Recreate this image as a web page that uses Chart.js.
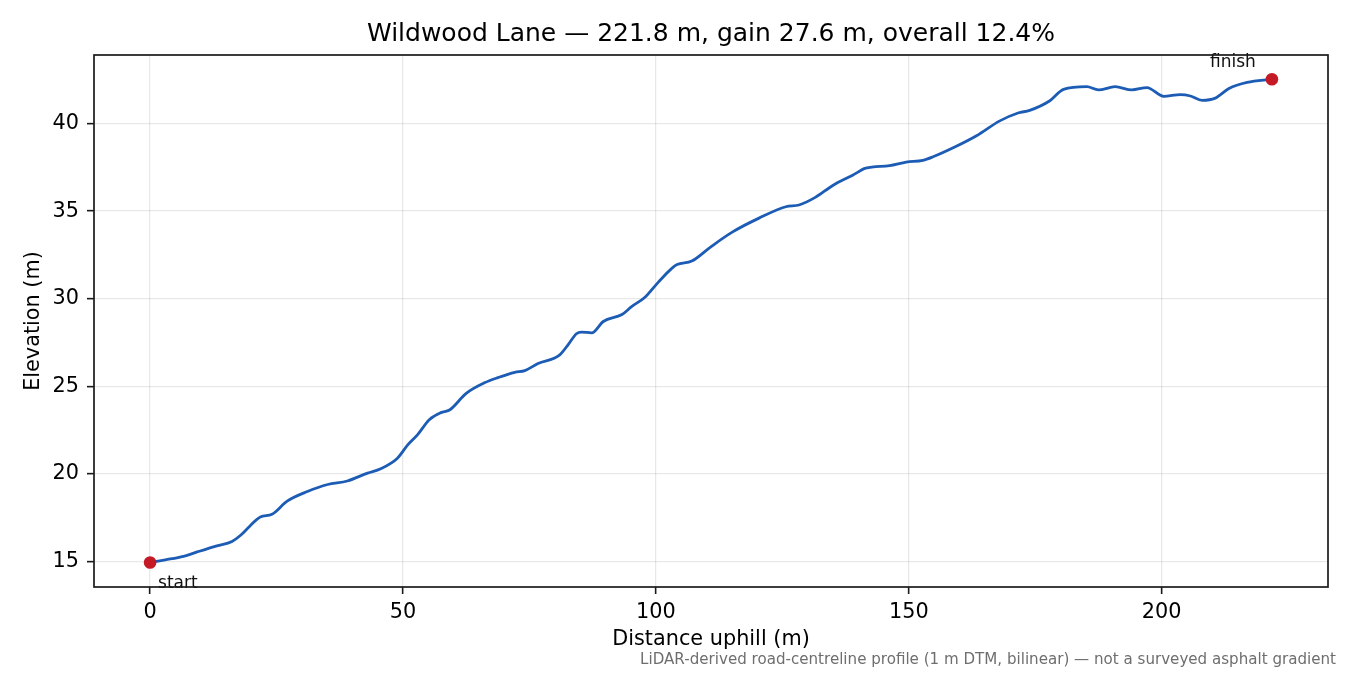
<!DOCTYPE html>
<html>
<head>
<meta charset="utf-8">
<script src="https://cdn.jsdelivr.net/npm/chart.js@4.4.1/dist/chart.umd.min.js"></script>
<style>
  html, body { margin: 0; padding: 0; background: #fff; }
  #wrap { width: 1350px; height: 675px; }
</style>
</head>
<body>
<div id="wrap"><canvas id="profile" width="1350" height="675"></canvas></div>
<script>
/* Wildwood Lane elevation profile */
const distance = [
  0, 3, 6.6, 9.3, 13.2, 16.2, 17.9, 19.8, 21.8, 24.1, 27.1, 31.1, 35.1, 39.0,
  43.0, 45.6, 48.9, 50.9, 52.9, 55.2, 57.5, 59.2, 62.5, 66.1, 68.8, 72.1, 74.1,
  76.7, 81.0, 82.7, 84.3, 85.3, 87.3, 89.6, 93.3, 95.2, 97.9, 100.5, 103.2,
  104.2, 107.1, 110.8, 115.1, 120.4, 125.7, 128.3, 131.6, 134.9, 138.9, 141.5,
  146.2, 149.5, 152.8, 154.8, 159.4, 163.4, 168.0, 171.6, 173.9, 177.9, 180.6,
  185.2, 187.5, 190.8, 194.1, 197.1, 200.4, 203.7, 205.7, 208.0, 210.6, 213.3,
  216.9, 221.8
];
const elevation = [
  14.95, 15.1, 15.3, 15.55, 15.9, 16.15, 16.5, 17.05, 17.55, 17.7, 18.45, 19.0, 19.4, 19.6,
  20.05, 20.3, 20.9, 21.65, 22.25, 23.1, 23.5, 23.65, 24.6, 25.2, 25.5, 25.8, 25.9,
  26.3, 26.8, 27.4, 28.0, 28.1, 28.05, 28.7, 29.1, 29.55, 30.1, 30.95, 31.75,
  31.95, 32.15, 32.95, 33.8, 34.6, 35.25, 35.35, 35.8, 36.45, 37.05, 37.45,
  37.6, 37.8, 37.9, 38.1, 38.7, 39.3, 40.15, 40.6, 40.75, 41.3, 41.95,
  42.1, 41.92, 42.1, 41.92, 42.05, 41.55, 41.65, 41.57, 41.32, 41.45, 42.0,
  42.35, 42.53
];
const endLabels = ['start', 'finish'];
const xTicks = [0, 50, 100, 150, 200];
const yTicks = [15, 20, 25, 30, 35, 40];

const TITLE = 'Wildwood Lane \u2014 221.8 m, gain 27.6 m, overall 12.4%';
const NOTE = 'LiDAR-derived road-centreline profile (1 m DTM, bilinear) \u2014 not a surveyed asphalt gradient';
const FONT = "'DejaVu Sans', sans-serif";

const profilePts = distance.map((d, i) => ({ x: d, y: elevation[i] }));
const last = distance.length - 1;
const endPts = [
  { x: distance[0], y: elevation[0] },
  { x: distance[last], y: elevation[last] }
];

// text labels under the frame
const labels = {
  id: 'labels',
  afterDatasetsDraw(chart) {
    const { ctx, scales: { x, y } } = chart;
    ctx.save();
    ctx.font = '17px ' + FONT;
    ctx.fillStyle = '#111';
    ctx.textBaseline = 'alphabetic';
    ctx.textAlign = 'left';
    ctx.fillText(endLabels[0], x.getPixelForValue(endPts[0].x) + 8, y.getPixelForValue(endPts[0].y) + 26);
    ctx.textAlign = 'center';
    ctx.fillText(endLabels[1], x.getPixelForValue(endPts[1].x) - 39, y.getPixelForValue(endPts[1].y) - 12);
    ctx.restore();
  }
};

// frame, titles, footnote
const decor = {
  id: 'decor',
  afterDraw(chart) {
    const { ctx, chartArea: a } = chart;
    ctx.save();
    ctx.strokeStyle = '#1a1a1a';
    ctx.lineWidth = 1.7;
    ctx.strokeRect(a.left, a.top, a.right - a.left, a.bottom - a.top);

    ctx.fillStyle = '#000';
    ctx.textAlign = 'center';
    ctx.textBaseline = 'middle';
    ctx.font = '25px ' + FONT;
    ctx.fillText(TITLE, (a.left + a.right) / 2, 34);

    ctx.font = '20.8px ' + FONT;
    ctx.fillText('Distance uphill (m)', (a.left + a.right) / 2, 640);
    ctx.save();
    ctx.translate(34, (a.top + a.bottom) / 2);
    ctx.rotate(-Math.PI / 2);
    ctx.fillText('Elevation (m)', 0, 0);
    ctx.restore();

    ctx.font = '15.1px ' + FONT;
    ctx.fillStyle = '#6e6e6e';
    ctx.textAlign = 'right';
    ctx.textBaseline = 'alphabetic';
    ctx.fillText(NOTE, 1336, 664);
    ctx.restore();
  }
};

const tickList = vals => scale => { scale.ticks = vals.map(v => ({ value: v })); };

new Chart(document.getElementById('profile'), {
  type: 'line',
  data: {
    datasets: [
      {
        data: profilePts,
        borderColor: '#1c5cb5',
        borderWidth: 2.8,
        pointRadius: 0,
        cubicInterpolationMode: 'monotone',
        fill: false,
        order: 2
      },
      {
        data: endPts,
        showLine: false,
        pointRadius: 6.3,
        pointBackgroundColor: '#c41a26',
        pointBorderWidth: 0,
        order: 1
      }
    ]
  },
  options: {
    responsive: false,
    animation: false,
    layout: { padding: { left: 0, right: 22, top: 55, bottom: 0 } },
    plugins: { legend: { display: false }, tooltip: { enabled: false }, title: { display: false } },
    scales: {
      x: {
        type: 'linear',
        min: -11.09,
        max: 232.89,
        afterBuildTicks: tickList(xTicks),
        afterFit: s => { s.height = 88; },
        grid: { color: 'rgba(0,0,0,0.09)', lineWidth: 1.3, tickColor: '#1a1a1a', tickWidth: 1.6, tickLength: 7 },
        border: { display: false },
        ticks: { color: '#000', font: { family: FONT, size: 20.8 }, padding: 6, maxRotation: 0 }
      },
      y: {
        type: 'linear',
        min: 13.55,
        max: 43.91,
        afterBuildTicks: tickList(yTicks),
        afterFit: s => { s.width = 94; },
        grid: { color: 'rgba(0,0,0,0.09)', lineWidth: 1.3, tickColor: '#1a1a1a', tickWidth: 1.6, tickLength: 7 },
        border: { display: false },
        ticks: { color: '#000', font: { family: FONT, size: 20.8 }, padding: 8 }
      }
    }
  },
  plugins: [labels, decor]
});
</script>
</body>
</html>
